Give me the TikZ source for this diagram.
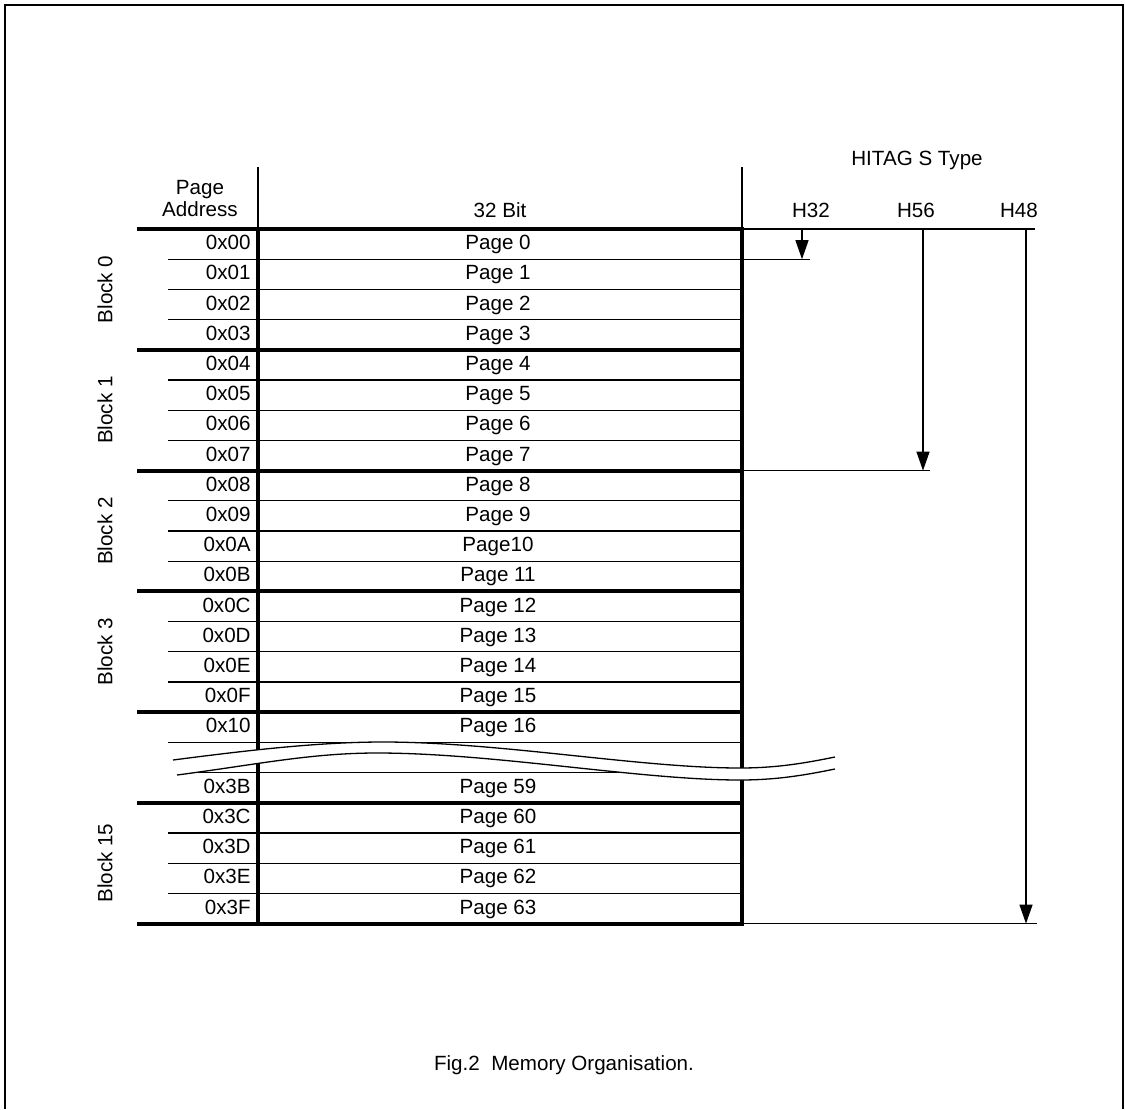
\documentclass[tikz,border=0pt]{standalone}
\usepackage{fontspec}
\setmainfont{Liberation Sans}
\usetikzlibrary{arrows.meta}
\tikzset{
  txt/.style={font=\fontsize{10.3}{10.6}\selectfont,inner sep=0pt},
  thinln/.style={line width=0.65pt},
  thickln/.style={line width=2pt},
  dim/.style={thinln,-{Triangle[length=9.5pt,width=6.5pt]}},
}

\begin{document}
\begin{tikzpicture}[x=0.5pt,y=-0.5pt,
  blk/.style={txt,rotate=90}]
  \useasboundingbox (0,0) rectangle (1125,1109);
  \def\rh{30.2}
  % frame
  \draw[line width=1pt] (5,1109) -- (5,5) -- (1123,5) -- (1123,1109);
  % header
  \draw[thinln] (258,167) -- (258,229) (742,167) -- (742,229);
  \node[txt,align=center,anchor=base] (addrhead) at (200,216) {Page\\Address};
  \node[txt,anchor=base] (bithead) at (500,217) {32 Bit};
  \node[txt,anchor=base] (typehead) at (917,165) {HITAG S Type};
  \node[txt,anchor=base] (h32) at (811,217) {H32};
  \node[txt,anchor=base] (h56) at (916,217) {H56};
  \node[txt,anchor=base] (h48) at (1019,217) {H48};
  % rows
  \foreach \i/\a/\p in {0/00/Page 0,1/01/Page 1,2/02/Page 2,3/03/Page 3,
      4/04/Page 4,5/05/Page 5,6/06/Page 6,7/07/Page 7,8/08/Page 8,9/09/Page 9,
      10/0A/Page10,11/0B/Page 11,12/0C/Page 12,13/0D/Page 13,14/0E/Page 14,
      15/0F/Page 15,16/10/Page 16,18/3B/Page 59,19/3C/Page 60,20/3D/Page 61,
      21/3E/Page 62,22/3F/Page 63}{
    \node[txt,anchor=base east] (addr\i) at (251,{229+\i*\rh+20.6}) {0x\a};
    \node[txt,anchor=base] (page\i) at (498,{229+\i*\rh+20.6}) {\p};
  }
  \foreach \i in {1,2,3,5,6,7,9,10,11,13,14,15,17,20,21,22}
    \draw[thinln] (168,{229+\i*\rh}) -- (742,{229+\i*\rh});
  \draw[thinln] (190,{229+18*\rh}) -- (742,{229+18*\rh});
  \foreach \i in {0,4,8,12,16,19,23}
    \draw[thickln] (137,{229+\i*\rh}) -- (742,{229+\i*\rh});
  \draw[thickln,line cap=rect] (258,229) -- (258,{229+23*\rh}) (742,229) -- (742,{229+23*\rh});
  % blocks
  \node[blk] (blk0) at (105,{229+2*\rh}) {Block 0};
  \node[blk] (blk1) at (105,{229+6*\rh}) {Block 1};
  \node[blk] (blk2) at (105,{229+10*\rh}) {Block 2};
  \node[blk] (blk3) at (105,{229+14*\rh}) {Block 3};
  \node[blk] (blk15) at (105,{229+21*\rh}) {Block 15};
  % break
  \fill[white] (173,760) .. controls (250,750) and (320,742) .. (383,742)
    .. controls (500,742) and (640,768) .. (740,768)
    .. controls (780,768) and (810,762) .. (835,757) -- (835,769)
    .. controls (810,774) and (780,780) .. (740,780)
    .. controls (640,780) and (494,753) .. (377,753)
    .. controls (310,753) and (254,765) .. (177,775) -- cycle;
  \draw[thinln] (173,760) .. controls (250,750) and (320,742) .. (383,742)
    .. controls (500,742) and (640,768) .. (740,768)
    .. controls (780,768) and (810,762) .. (835,757);
  \draw[thinln] (177,775) .. controls (254,765) and (310,753) .. (377,753)
    .. controls (494,753) and (640,780) .. (740,780)
    .. controls (780,780) and (810,774) .. (835,769);
  % sizes
  \coordinate (h32a) at (802,229);
  \coordinate (h32b) at (802,{229+\rh});
  \coordinate (h56a) at (923,229);
  \coordinate (h56b) at (923,{229+8*\rh});
  \coordinate (h48a) at (1026,229);
  \coordinate (h48b) at (1026,{229+23*\rh});
  \draw[thinln] (742,229) -- (1035,229);
  \draw[thinln] (742,{229+\rh}) -- (810,{229+\rh});
  \draw[thinln] (742,{229+8*\rh}) -- (930,{229+8*\rh});
  \draw[thinln] (742,{229+23*\rh}) -- (1037,{229+23*\rh});
  \draw[dim] (h32a) -- (h32b);
  \draw[dim] (h56a) -- (h56b);
  \draw[dim] (h48a) -- (h48b);
  % caption
  \node[txt,anchor=base] (caption) at (564,1070) {Fig.2~~Memory Organisation.};
\end{tikzpicture}
\end{document}
